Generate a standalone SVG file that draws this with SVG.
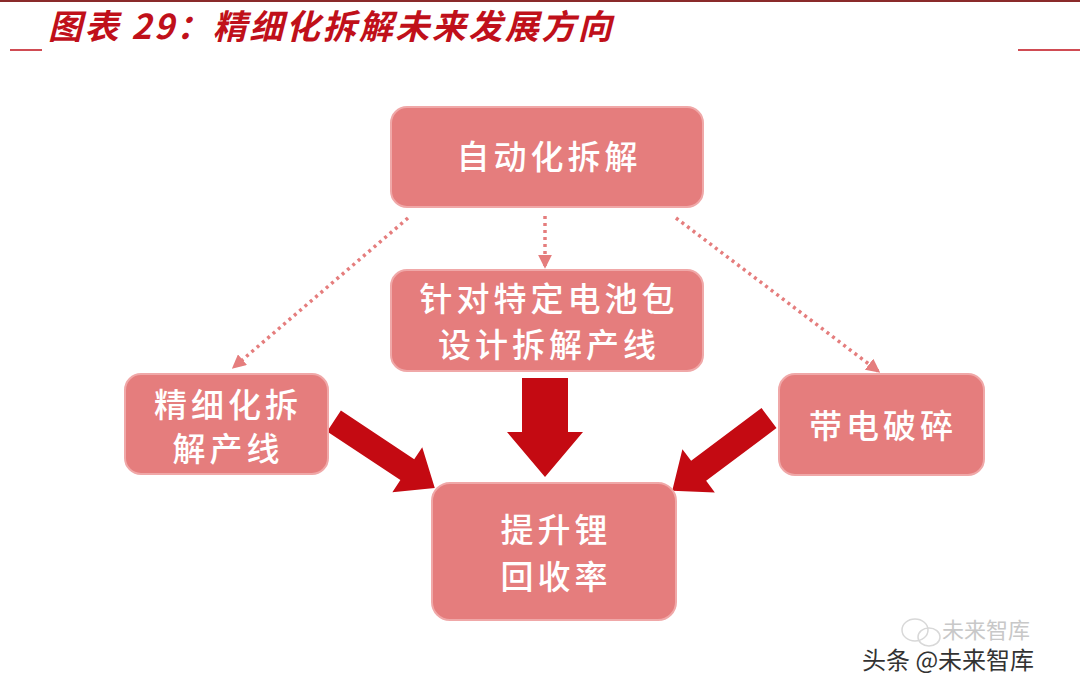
<svg xmlns="http://www.w3.org/2000/svg" width="1080" height="687" viewBox="0 0 1080 687">
<style>
.box{fill:#e57d7d;stroke:#f0a8a8;stroke-width:2}
.t{font-family:"Noto Sans CJK SC","Noto Sans CJK JP",sans-serif;font-size:33px;fill:#ffffff;text-anchor:middle;font-weight:500;letter-spacing:4px}
.dot{stroke:#e57d7d;stroke-width:3.5;stroke-dasharray:3 4;fill:none}
.big{fill:#c40a12}
</style>
<defs>
<marker id="ah" viewBox="0 0 10 10" refX="8" refY="5" markerWidth="4" markerHeight="4" orient="auto" markerUnits="strokeWidth">
<path d="M0,0 L10,5 L0,10 Z" fill="#e57d7d"/>
</marker>
</defs>
<rect width="1080" height="687" fill="#ffffff"/>
<line x1="0" y1="1" x2="1080" y2="1" stroke="#8a2a2a" stroke-width="2"/>
<text x="48" y="39" font-family="Noto Sans CJK SC,sans-serif" font-size="34" font-weight="bold" font-style="italic" letter-spacing="2.5" fill="#c0101a">图表 29：精细化拆解未来发展方向</text>
<line x1="10" y1="50" x2="42" y2="50" stroke="#c0101a" stroke-width="1.5"/>
<line x1="1018" y1="50" x2="1080" y2="50" stroke="#c0101a" stroke-width="1.5"/>

<g id="connectors">
<line class="dot" x1="408" y1="218" x2="234" y2="367" marker-end="url(#ah)"/>
<line class="dot" x1="545" y1="216" x2="545" y2="266" marker-end="url(#ah)"/>
<line class="dot" x1="676" y1="218" x2="878" y2="371" marker-end="url(#ah)"/>
<path class="big" transform="translate(334,421) rotate(33.6)" d="M0,-12.5 L88,-12.5 L88,-27 L121,0 L88,27 L88,12.5 L0,12.5 Z"/>
<path class="big" transform="translate(545,378) rotate(90)" d="M0,-23 L54,-23 L54,-38 L99,0 L54,38 L54,23 L0,23 Z"/>
<path class="big" transform="translate(769,418) rotate(143.1)" d="M0,-12.5 L88,-12.5 L88,-27 L121,0 L88,27 L88,12.5 L0,12.5 Z"/>
</g>

<g id="node-auto">
<rect class="box" x="391" y="107" width="312" height="100" rx="16"/>
<text class="t" x="549" y="169">自动化拆解</text>
</g>
<g id="node-specific">
<rect class="box" x="391" y="270" width="312" height="101" rx="16"/>
<text class="t" x="549" y="311">针对特定电池包</text>
<text class="t" x="549" y="357">设计拆解产线</text>
</g>
<g id="node-fine">
<rect class="box" x="125" y="374" width="203" height="100" rx="16"/>
<text class="t" x="228" y="417">精细化拆</text>
<text class="t" x="228" y="461">解产线</text>
</g>
<g id="node-charged">
<rect class="box" x="779" y="374" width="205" height="101" rx="16"/>
<text class="t" x="883" y="438">带电破碎</text>
</g>
<g id="node-result">
<rect class="box" x="432" y="483" width="244" height="137" rx="18"/>
<text class="t" x="556" y="542">提升锂</text>
<text class="t" x="556" y="589">回收率</text>
</g>

<g id="watermark">
<ellipse cx="915" cy="630" rx="13" ry="11" fill="none" stroke="#d8d8d8" stroke-width="1.5"/>
<ellipse cx="929" cy="637" rx="11" ry="9" fill="none" stroke="#d8d8d8" stroke-width="1.5"/>
<text x="942" y="638" font-family="Noto Sans CJK SC,sans-serif" font-size="22" fill="#c8c8c8">未来智库</text>
<text x="862" y="669" font-family="Noto Sans CJK SC,sans-serif" font-size="24" fill="#333333">头条 @未来智库</text>
</g>
</svg>
